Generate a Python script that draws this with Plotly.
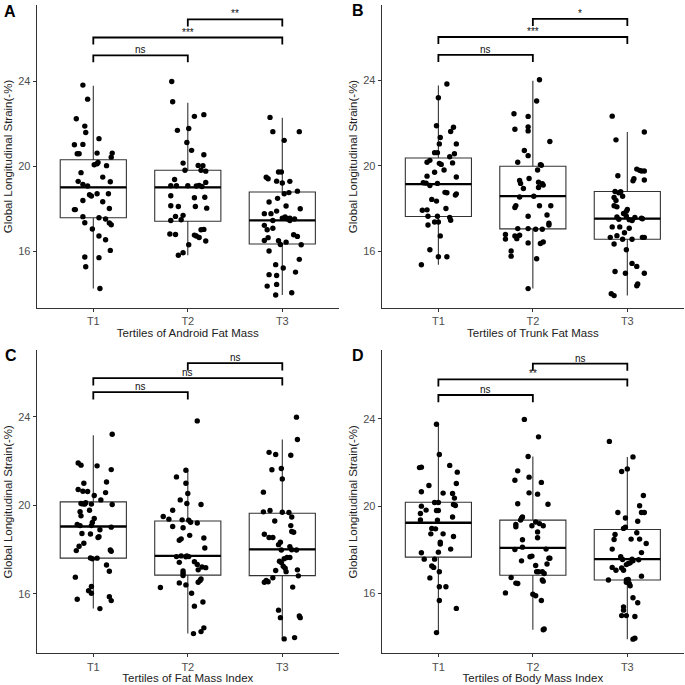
import plotly.graph_objects as go

# ---------------- data ----------------
categories = ["T1", "T2", "T3"]
panel_letters = ["A", "B", "C", "D"]
x_titles = ["Tertiles of Android Fat Mass", "Tertiles of Trunk Fat Mass",
            "Tertiles of Fat Mass Index", "Tertiles of Body Mass Index"]
y_title = "Global Longitudinal Strain(-%)"
y_ticks = [16, 20, 24]

# Panel A - Android fat mass
gls_A1 = [23.81, 23.15, 22.23, 21.88, 21.58, 21.29, 21.0, 21.02, 20.58, 20.58, 20.61, 20.61, 20.42, 20.17, 20.11,
          20.06, 20.02, 19.69, 19.48, 19.28, 19.26, 19.14, 19.06, 18.70, 18.70, 18.65, 18.59, 18.38, 18.32, 17.95,
          17.95, 18.0, 17.62, 17.57, 17.51, 17.33, 17.32, 17.24, 17.04, 16.71, 16.53, 16.03, 15.72, 15.69, 15.26, 14.24]
jit_A1 = [-0.11, -0.06, -0.18, -0.09, -0.08, 0.06, -0.20, -0.11, -0.17, -0.15, 0.04, 0.20, 0.19, 0.05, 0.04,
          0.01, 0.14, -0.13, 0.10, -0.16, 0.18, -0.11, -0.06, 0.16, 0.04, -0.04, -0.02, -0.11, 0.10, -0.20,
          -0.19, 0.17, -0.11, 0.06, 0.13, -0.09, 0.17, 0.19, -0.01, 0.06, 0.13, 0.18, -0.09, 0.06, -0.08, 0.07]
gls_A2 = [23.98, 23.03, 22.42, 22.34, 21.77, 21.68, 21.11, 20.74, 20.53, 20.14, 20.03, 20.02, 19.80, 19.80, 19.76,
          19.37, 19.23, 19.07, 19.07, 19.07, 19.09, 19.06, 19.04, 18.60, 18.51, 18.53, 18.13, 18.10, 18.10, 18.02,
          17.68, 17.63, 17.44, 17.47, 17.0, 17.02, 16.80, 16.78, 16.75, 16.71, 16.64, 16.47, 16.30, 15.92, 15.80]
jit_A2 = [-0.17, -0.16, 0.17, 0.07, 0.01, -0.11, -0.01, 0.04, 0.17, -0.05, 0.11, 0.16, -0.03, 0.14, 0.19,
          -0.14, 0.19, -0.18, -0.12, 0.0, 0.12, 0.09, 0.15, -0.18, 0.07, 0.18, -0.18, -0.10, 0.08, 0.20,
          -0.05, -0.13, -0.18, -0.07, 0.14, 0.17, -0.19, -0.13, 0.07, 0.09, 0.12, 0.19, 0.01, -0.05, -0.10]
gls_A3 = [22.29, 21.62, 21.62, 21.21, 19.47, 19.40, 19.72, 19.72, 19.29, 19.20, 19.28, 18.70, 18.75, 18.82, 18.31,
          18.48, 18.12, 17.99, 17.88, 17.76, 17.76, 17.55, 17.60, 17.52, 17.55, 17.51, 17.44, 17.44, 17.21, 17.07,
          17.0, 16.77, 16.69, 16.63, 16.50, 16.49, 16.42, 16.31, 16.30, 16.0, 15.61, 15.36, 15.20, 15.01, 14.89,
          14.85, 14.35, 14.43, 14.04, 13.93]
jit_A3 = [-0.13, -0.10, 0.18, 0.02, -0.17, -0.15, -0.04, -0.01, -0.06, 0.0, 0.08, 0.02, 0.07, 0.16, -0.14,
          -0.05, 0.04, 0.19, -0.06, -0.19, -0.12, 0.0, 0.03, 0.05, 0.08, 0.13, 0.08, -0.10, -0.19, -0.10,
          -0.16, 0.12, 0.16, -0.15, -0.19, -0.04, 0.04, -0.02, 0.20, -0.14, 0.18, -0.07, 0.01, 0.14, -0.14,
          -0.06, -0.16, -0.06, 0.10, -0.07]

# Panel B - Trunk fat mass
gls_B1 = [23.83, 23.18, 21.87, 21.80, 21.32, 21.60, 21.02, 21.02, 20.61, 20.61, 20.56, 20.42, 20.16, 20.25, 20.11,
          20.13, 20.06, 19.80, 19.69, 19.51, 19.47, 19.20, 19.18, 19.17, 19.07, 18.75, 18.73, 18.68, 18.62, 18.42,
          18.34, 17.99, 17.91, 17.93, 17.63, 17.63, 17.57, 17.44, 17.36, 17.36, 17.22, 16.71, 16.06, 15.73, 15.73, 15.36]
jit_B1 = [0.09, 0.0, -0.02, 0.16, 0.02, 0.13, 0.19, 0.01, -0.04, -0.01, 0.17, 0.12, -0.12, -0.09, 0.01,
          0.15, 0.03, 0.06, -0.04, -0.12, 0.19, -0.16, -0.13, -0.01, -0.09, 0.07, 0.09, 0.19, 0.18, -0.07,
          -0.02, 0.08, -0.17, -0.12, -0.11, -0.01, 0.12, 0.13, -0.04, 0.0, -0.11, 0.02, -0.09, 0.0, 0.09, -0.18]
gls_B2 = [24.03, 23.03, 22.43, 22.31, 21.71, 21.82, 21.63, 21.13, 20.71, 20.47, 20.16, 20.05, 20.02, 19.80, 19.31,
          19.17, 19.40, 19.22, 19.15, 19.09, 18.98, 18.93, 18.57, 18.53, 18.04, 18.13, 18.12, 18.12, 17.63, 17.69,
          17.30, 17.22, 17.05, 17.05, 17.02, 17.02, 16.78, 16.71, 16.74, 16.58, 16.56, 16.38, 16.42, 16.35, 16.0,
          15.76, 15.64, 14.24]
jit_B2 = [0.07, 0.04, -0.20, -0.05, -0.19, -0.05, -0.05, 0.18, -0.09, -0.05, -0.16, 0.08, 0.09, 0.05, -0.14,
          -0.13, -0.04, 0.06, 0.10, 0.11, 0.06, -0.10, 0.01, -0.14, -0.19, -0.18, 0.07, 0.19, -0.05, 0.15,
          0.17, 0.17, -0.16, -0.05, 0.03, 0.10, -0.29, -0.19, -0.14, -0.17, -0.29, -0.05, 0.11, 0.08, -0.23,
          -0.23, 0.04, -0.05]
gls_B3 = [22.32, 21.21, 21.58, 19.53, 19.84, 19.78, 19.75, 19.75, 19.39, 19.29, 19.33, 18.78, 18.79, 18.73, 18.57,
          18.51, 18.37, 18.12, 18.07, 17.95, 17.86, 17.76, 17.49, 17.60, 17.63, 17.47, 17.43, 17.57, 17.54, 17.51,
          17.46, 17.13, 17.13, 17.07, 16.86, 16.72, 16.64, 16.55, 16.55, 16.64, 16.64, 16.33, 16.06, 15.42, 15.28,
          15.04, 14.96, 14.96, 14.46, 14.37, 14.0, 13.91]
jit_B3 = [-0.16, -0.12, 0.18, -0.10, 0.10, 0.13, 0.15, 0.18, 0.07, 0.06, 0.18, -0.07, -0.13, -0.09, -0.05,
          -0.14, -0.12, -0.14, -0.11, 0.0, -0.01, -0.04, -0.09, -0.11, -0.01, 0.02, 0.05, 0.08, 0.15, 0.16,
          0.05, -0.16, -0.08, 0.02, -0.03, -0.11, -0.18, -0.05, 0.05, 0.16, 0.18, -0.14, -0.01, 0.05, 0.10,
          -0.13, -0.02, 0.18, 0.11, 0.10, -0.17, -0.14]

# Panel C - Fat mass index
gls_C1 = [23.21, 21.91, 21.81, 21.78, 21.61, 21.05, 20.99, 20.71, 20.63, 20.62, 20.57, 20.44, 20.24, 20.08, 20.06,
          20.05, 20.11, 20.05, 20.03, 19.77, 19.71, 19.52, 19.40, 19.22, 19.13, 19.08, 19.08, 19.01, 18.89, 18.72,
          18.70, 18.58, 18.54, 18.28, 18.15, 17.95, 17.98, 17.92, 17.62, 17.58, 17.61, 17.30, 17.02, 16.75, 16.33,
          16.14, 16.02, 15.87, 15.75, 15.69, 15.33]
jit_C1 = [0.20, -0.16, -0.13, 0.04, 0.19, 0.14, -0.10, -0.16, -0.11, -0.06, 0.13, 0.01, 0.08, -0.13, -0.11,
          -0.09, -0.08, -0.02, 0.20, -0.04, -0.14, -0.13, 0.01, -0.01, -0.17, -0.14, -0.02, 0.19, 0.07, -0.12,
          -0.03, 0.06, 0.05, -0.10, -0.15, -0.18, 0.18, 0.19, -0.03, -0.01, 0.04, 0.14, 0.17, -0.19, -0.02,
          -0.05, -0.02, 0.17, -0.17, 0.19, 0.07]
gls_C2 = [23.81, 21.58, 21.28, 20.99, 20.53, 20.24, 20.08, 20.03, 19.77, 19.49, 19.37, 19.34, 19.32, 19.23, 19.20,
          19.04, 18.98, 18.64, 18.48, 18.42, 18.52, 18.07, 17.71, 17.68, 17.67, 17.71, 17.68, 17.42, 17.45, 17.32,
          17.21, 17.18, 17.08, 17.03, 16.93, 16.82, 16.67, 16.60, 16.52, 16.49, 16.40, 16.28, 16.02, 15.63, 15.44,
          14.46, 14.29, 14.20]
jit_C2 = [0.10, -0.02, -0.12, -0.02, 0.0, -0.08, -0.01, 0.14, -0.16, -0.26, -0.20, -0.06, 0.01, 0.03, 0.10,
          -0.16, -0.05, 0.02, -0.07, -0.09, 0.17, 0.18, -0.07, -0.12, -0.02, -0.01, 0.01, -0.09, 0.07, 0.10,
          0.15, 0.19, 0.11, -0.05, -0.05, -0.05, 0.14, 0.13, 0.11, -0.09, -0.02, -0.29, 0.04, 0.16, 0.07,
          0.17, 0.14, 0.06]
gls_C3 = [23.98, 22.97, 22.39, 22.29, 22.26, 21.60, 21.66, 21.19, 20.59, 19.70, 19.76, 19.68, 19.67, 19.29, 19.47,
          19.08, 18.69, 18.81, 18.78, 18.54, 18.54, 18.33, 18.13, 18.22, 17.98, 17.99, 17.98, 17.64, 17.64, 17.58,
          17.47, 17.41, 17.24, 17.15, 17.08, 17.05, 17.00, 16.81, 16.72, 16.60, 16.52, 16.54, 16.30, 15.26, 14.92,
          15.0, 14.92, 14.02, 13.96]
jit_C3 = [0.15, 0.16, -0.14, -0.07, 0.09, -0.11, -0.01, 0.0, -0.20, -0.20, -0.13, 0.0, 0.07, -0.08, 0.10,
          0.09, -0.19, 0.10, 0.12, -0.14, -0.10, -0.02, 0.08, -0.04, -0.01, 0.10, 0.15, 0.05, 0.08, 0.02,
          -0.03, -0.01, 0.01, 0.03, 0.16, -0.07, 0.04, 0.17, -0.10, -0.17, -0.19, -0.15, 0.11, -0.04, -0.02,
          0.18, 0.19, 0.13, 0.02]

# Panel D - Body mass index
gls_D1 = [23.76, 22.37, 21.77, 21.79, 21.87, 21.56, 20.95, 21.04, 20.66, 20.60, 20.58, 20.37, 20.17, 20.17, 20.08,
          20.03, 20.0, 19.82, 19.80, 19.80, 19.66, 19.50, 19.37, 19.36, 18.98, 18.96, 18.73, 18.73, 18.61, 18.35,
          18.26, 18.03, 17.86, 17.89, 17.57, 17.57, 17.26, 17.19, 16.99, 16.71, 16.30, 16.30, 15.67, 15.31, 14.20]
jit_D1 = [-0.02, 0.01, -0.20, -0.18, 0.12, 0.20, -0.10, 0.19, -0.18, 0.05, 0.15, 0.17, -0.04, 0.0, 0.16,
          0.18, -0.18, -0.13, -0.02, 0.0, -0.19, 0.15, -0.19, -0.01, -0.07, -0.03, -0.08, 0.05, 0.16, 0.02,
          0.02, 0.13, -0.18, 0.0, -0.15, -0.04, -0.07, -0.05, 0.01, -0.09, 0.01, 0.08, 0.01, 0.19, -0.02]
gls_D2 = [23.98, 23.18, 22.28, 21.62, 21.33, 21.19, 21.09, 20.61, 20.55, 20.09, 20.11, 19.50, 19.45, 19.36, 19.16,
          19.27, 19.20, 19.10, 19.05, 19.10, 18.82, 18.55, 18.46, 18.01, 18.03, 18.12, 17.68, 17.71, 17.61, 17.61,
          17.49, 17.35, 17.28, 16.99, 16.99, 16.99, 16.91, 16.73, 16.61, 16.56, 16.47, 16.45, 16.02, 15.96, 15.89,
          15.67, 14.33, 14.37]
jit_D2 = [-0.09, 0.06, -0.05, -0.16, -0.04, -0.19, 0.09, -0.04, 0.05, 0.16, -0.16, -0.11, -0.12, -0.13, -0.18,
          0.03, 0.07, 0.11, -0.18, -0.01, 0.05, 0.05, -0.11, -0.19, 0.14, -0.11, -0.03, -0.01, 0.17, 0.18,
          -0.12, 0.15, 0.03, 0.06, 0.04, 0.10, 0.12, -0.23, 0.10, 0.11, -0.18, -0.16, -0.29, 0.0, 0.03,
          0.09, 0.11, 0.12]
gls_D3 = [22.97, 22.26, 21.71, 21.59, 20.49, 20.02, 19.71, 19.71, 19.71, 19.46, 19.31, 19.04, 18.98, 18.70, 18.78,
          18.47, 18.49, 18.49, 18.29, 18.03, 17.87, 17.68, 17.55, 17.57, 17.54, 17.19, 17.16, 17.06, 17.06, 17.37,
          17.32, 17.40, 17.49, 16.79, 16.61, 16.61, 16.64, 16.51, 16.45, 16.35, 15.80, 15.57, 15.38, 15.23, 14.98,
          14.98, 14.94, 13.94, 13.90]
jit_D3 = [-0.19, 0.06, 0.0, -0.06, 0.17, 0.13, 0.15, 0.18, -0.10, -0.02, 0.11, -0.02, -0.04, -0.13, 0.10,
          -0.14, 0.04, 0.13, 0.20, -0.16, 0.15, -0.07, -0.05, 0.05, 0.12, -0.16, -0.06, -0.04, -0.12, 0.01,
          -0.01, 0.03, 0.06, 0.15, -0.20, -0.01, 0.01, -0.01, 0.02, 0.03, 0.06, 0.11, -0.04, -0.04, -0.06,
          -0.01, 0.08, 0.08, 0.06]

# Box statistics (T1, T2, T3) per panel
q1_A = [17.57, 17.40, 16.33]; med_A = [19.00, 19.00, 17.44]; q3_A = [20.30, 19.80, 18.78]
lo_A = [14.24, 15.80, 13.93]; hi_A = [23.78, 22.98, 22.27]
q1_B = [17.62, 17.04, 16.55]; med_B = [19.14, 18.57, 17.52]; q3_B = [20.36, 19.97, 18.79]
lo_B = [15.36, 14.24, 13.91]; hi_B = [23.76, 23.98, 21.58]
q1_C = [17.61, 16.84, 16.82]; med_C = [19.04, 17.71, 18.01]; q3_C = [20.15, 19.29, 19.64]
lo_C = [15.33, 14.20, 13.96]; hi_C = [23.16, 21.55, 22.97]
q1_D = [17.66, 16.83, 16.61]; med_D = [19.24, 18.09, 17.57]; q3_D = [20.18, 19.36, 18.93]
lo_D = [14.20, 14.33, 13.90]; hi_D = [23.73, 22.28, 22.26]

# Pairwise comparisons: (group a, group b), bracket level, label
pairs = [(1, 2), (1, 3), (2, 3)]
bracket_y_A = [25.21, 26.05, 26.90]; labels_A = ["ns", "***", "**"]
bracket_y_B = [25.19, 26.03, 26.88]; labels_B = ["ns", "***", "*"]
bracket_y_C = [25.11, 25.74, 26.42]; labels_C = ["ns", "ns", "ns"]
bracket_y_D = [25.10, 25.82, 26.54]; labels_D = ["ns", "**", "ns"]

y_ranges = [[13.32, 27.58], [13.33, 27.53], [13.31, 27.00], [13.25, 27.15]]

# ---------------- figure ----------------
W = H = 685
FONT = "Liberation Sans, Arial, sans-serif"
BOX_W = 0.7
TIP = 0.33

panels = [
    ([gls_A1, gls_A2, gls_A3], [jit_A1, jit_A2, jit_A3], q1_A, med_A, q3_A, lo_A, hi_A, bracket_y_A, labels_A),
    ([gls_B1, gls_B2, gls_B3], [jit_B1, jit_B2, jit_B3], q1_B, med_B, q3_B, lo_B, hi_B, bracket_y_B, labels_B),
    ([gls_C1, gls_C2, gls_C3], [jit_C1, jit_C2, jit_C3], q1_C, med_C, q3_C, lo_C, hi_C, bracket_y_C, labels_C),
    ([gls_D1, gls_D2, gls_D3], [jit_D1, jit_D2, jit_D3], q1_D, med_D, q3_D, lo_D, hi_D, bracket_y_D, labels_D),
]

# panel rectangles in pixels: (left, right, top, bottom)
px_x = [(36.6, 339.0), (381.7, 684.0), (36.6, 339.0), (381.7, 684.0)]
px_y = [(5.0, 308.0), (5.0, 308.0), (350.3, 653.3), (350.3, 653.3)]
letter_pos = [(9.5, 11.0), (357.5, 10.5), (10.5, 355.5), (357.5, 355.5)]

fig = go.Figure()
layout = dict(width=W, height=H, margin=dict(l=0, r=0, t=0, b=0),
              paper_bgcolor="white", plot_bgcolor="white", showlegend=False,
              font=dict(family=FONT, color="black"))
annotations = []

for p, (ys, jits, q1, med, q3, lo, hi, by, labs) in enumerate(panels):
    n = p + 1
    xa = "x" if n == 1 else f"x{n}"
    ya = "y" if n == 1 else f"y{n}"
    xkey = "xaxis" if n == 1 else f"xaxis{n}"
    ykey = "yaxis" if n == 1 else f"yaxis{n}"
    xs = [1, 2, 3]

    fig.add_trace(go.Box(x=xs, q1=q1, median=med, q3=q3, lowerfence=lo, upperfence=hi,
                         boxpoints=False, width=BOX_W, whiskerwidth=0,
                         fillcolor="white", line=dict(color="#333333", width=1.1),
                         xaxis=xa, yaxis=ya, hoverinfo="skip"))
    mx, my = [], []
    for i, m in enumerate(med):
        mx += [xs[i] - BOX_W / 2, xs[i] + BOX_W / 2, None]
        my += [m, m, None]
    fig.add_trace(go.Scatter(x=mx, y=my, mode="lines", line=dict(color="black", width=2.3),
                             xaxis=xa, yaxis=ya, hoverinfo="skip"))
    for i in range(3):
        fig.add_trace(go.Scatter(x=[xs[i] + d for d in jits[i]], y=ys[i], mode="markers",
                                 marker=dict(color="black", size=5.4, line=dict(width=0)),
                                 xaxis=xa, yaxis=ya, hoverinfo="skip"))
    bx, byy = [], []
    for (a, b), yv, lab in zip(pairs, by, labs):
        bx += [a, a, b, b, None]
        byy += [yv - TIP, yv, yv, yv - TIP, None]
        annotations.append(dict(x=(a + b) / 2, y=yv, xref=xa, yref=ya, text=lab, showarrow=False,
                                yanchor="bottom", yshift=-2, font=dict(size=10, color="#111111", family=FONT)))
    fig.add_trace(go.Scatter(x=bx, y=byy, mode="lines", line=dict(color="black", width=1.8),
                             xaxis=xa, yaxis=ya, hoverinfo="skip"))

    l, r = px_x[p]
    t, b = px_y[p]
    layout[xkey] = dict(domain=[l / W, r / W], range=[0.4, 3.6], anchor=ya,
                        tickmode="array", tickvals=xs, ticktext=categories,
                        showline=True, linecolor="#333333", linewidth=1,
                        ticks="outside", ticklen=3, tickcolor="#333333", tickwidth=1,
                        showgrid=False, zeroline=False,
                        tickfont=dict(size=11, color="#4d4d4d", family=FONT),
                        title=dict(text=x_titles[p], standoff=2,
                                   font=dict(size=11.5, color="#222222", family=FONT)))
    layout[ykey] = dict(domain=[1 - b / H, 1 - t / H], range=y_ranges[p], anchor=xa,
                        tickmode="array", tickvals=y_ticks,
                        showline=True, linecolor="#333333", linewidth=1,
                        ticks="outside", ticklen=3, tickcolor="#333333", tickwidth=1,
                        showgrid=False, zeroline=False,
                        tickfont=dict(size=11, color="#4d4d4d", family=FONT),
                        title=dict(text=y_title, standoff=3,
                                   font=dict(size=11.5, color="#222222", family=FONT)))
    lx, ly = letter_pos[p]
    annotations.append(dict(x=lx / W, y=1 - ly / H, xref="paper", yref="paper", text=f"<b>{panel_letters[p]}</b>",
                            showarrow=False, xanchor="center", yanchor="middle",
                            font=dict(size=16, color="black", family=FONT)))

layout["annotations"] = annotations
fig.update_layout(**layout)
fig.write_html("out.html", config={"displayModeBar": False},
               post_script="document.body.style.margin='0px';document.body.style.padding='0px';")
